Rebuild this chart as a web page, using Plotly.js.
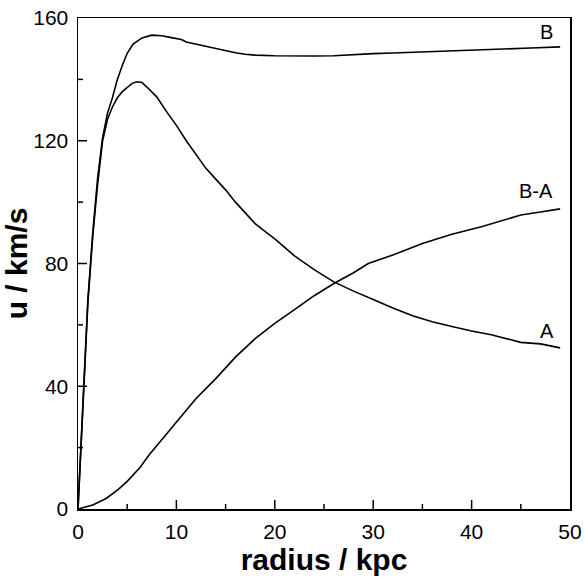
<!DOCTYPE html>
<html>
<head>
<meta charset="utf-8">
<script src="https://cdn.plot.ly/plotly-3.0.1.min.js"></script>
<style>html,body{margin:0;padding:0;background:#fff;}#chart{width:584px;height:578px;}</style>
</head>
<body>
<div id="chart"></div>
<script>
// Curve B (total)
const rB = [0, 0.3, 0.6, 1.0, 1.5, 2.0, 2.5, 3.0, 3.5, 4.0, 4.5, 5.0, 5.6, 6.5, 7.5, 8.5, 9.5, 10.5, 11, 12, 13, 14, 15, 16, 17, 18, 20, 22, 24, 26, 28, 30, 32, 35, 38, 40, 43, 46, 49];
const uB = [0, 21, 44, 68, 90, 108, 121, 129, 134, 140, 144.5, 148.5, 151.5, 153.5, 154.4, 154.2, 153.6, 153, 152.2, 151.5, 150.8, 150, 149.3, 148.7, 148.2, 147.9, 147.7, 147.6, 147.6, 147.7, 148.1, 148.4, 148.6, 148.9, 149.2, 149.5, 149.8, 150.2, 150.6];
// Curve A
const rA = [0, 0.3, 0.6, 1.0, 1.5, 2.0, 2.5, 3.0, 3.5, 4.0, 4.5, 5.0, 5.5, 6.0, 6.5, 7.0, 8.0, 9.0, 10.0, 11, 12, 13, 14, 15, 16, 17, 18, 19, 20, 22, 24, 26, 28, 30, 32, 34, 36, 38, 40, 42, 44, 45, 47, 49];
const uA = [0, 21, 44, 67, 89, 106, 120, 127, 131, 134, 136, 137.5, 138.7, 139.2, 139, 137.5, 134.3, 129.5, 125, 120, 115.5, 111, 107.5, 104, 100, 96.5, 93, 90.5, 88, 82.5, 78, 74, 71, 68.3, 65.5, 63, 61, 59.5, 58, 56.8, 55, 54.3, 53.8, 52.5];
// Curve B-A
const rBA = [0, 1.5, 2.9, 3.5, 4.1, 5.0, 6.3, 7.2, 8.5, 10, 12, 14, 16, 18, 20, 22, 24, 26, 28, 29.5, 32, 35, 38, 41, 45, 47, 49];
const uBA = [0, 1.3, 3.5, 5, 6.4, 9, 13.5, 17.5, 22.5, 28, 36, 42.5, 49.5, 55.5, 60.5, 65, 69.5, 73.5, 77, 80, 82.8, 86.5, 89.5, 92, 95.8, 96.8, 97.8];
const curveLabels = ["B", "A", "B-A"];
const labelPos = [[47.6, 155.5], [47.7, 58], [46.5, 103.5]];
// Axis ticks
const xRange = [0, 50];
const yRange = [0, 160];
const xTickVals = [0, 10, 20, 30, 40, 50];
const yTickVals = [0, 40, 80, 120, 160];
const xMajorInner = [10, 20, 30, 40];
const xMinorInner = [5, 15, 25, 35, 45];
const yMajorInner = [40, 80, 120];
const yMinorInner = [20, 60, 100, 140];

const lineStyle = {color: "#000", width: 1.6};
const traces = [
  {x: rB, y: uB, mode: "lines", line: lineStyle, name: curveLabels[0]},
  {x: rA, y: uA, mode: "lines", line: lineStyle, name: curveLabels[1]},
  {x: rBA, y: uBA, mode: "lines", line: lineStyle, name: curveLabels[2]}
];
const font = "Liberation Sans, Arial, sans-serif";
const axisCommon = {
  showline: true, mirror: true, linecolor: "#000", linewidth: 1.5,
  ticks: "", showgrid: false, zeroline: false,
  tickfont: {family: font, size: 21, color: "#000"}
};
const tickLine = {color: "#000", width: 1.5};
// inward tick marks drawn as pixel-sized shapes anchored on the axes
const xTickShape = (v, len) => ({type: "line", xref: "x", yref: "paper", ysizemode: "pixel", yanchor: 0,
  x0: v, x1: v, y0: 0, y1: len, line: tickLine, layer: "above"});
const yTickShape = (v, len) => ({type: "line", xref: "paper", yref: "y", xsizemode: "pixel", xanchor: 0,
  x0: 0, x1: len, y0: v, y1: v, line: tickLine, layer: "above"});
const shapes = [].concat(
  xMajorInner.map(v => xTickShape(v, 9)),
  xMinorInner.map(v => xTickShape(v, 5)),
  yMajorInner.map(v => yTickShape(v, 9)),
  yMinorInner.map(v => yTickShape(v, 5))
);
const layout = {
  width: 584, height: 578,
  margin: {l: 78, r: 14, t: 18, b: 69},
  paper_bgcolor: "#fff", plot_bgcolor: "#fff",
  showlegend: false,
  xaxis: Object.assign({}, axisCommon, {
    range: xRange, tickmode: "array", tickvals: xTickVals, ticklabelstandoff: 3,
    title: {text: "<b>radius / kpc</b>", font: {family: font, size: 30, color: "#000"}, standoff: 2}
  }),
  yaxis: Object.assign({}, axisCommon, {
    range: yRange, tickmode: "array", tickvals: yTickVals, ticklabelstandoff: 4,
    title: {text: "<b>u / km/s</b>", font: {family: font, size: 30, color: "#000"}, standoff: 0}
  }),
  shapes: shapes,
  annotations: curveLabels.map((t, i) => ({
    x: labelPos[i][0], y: labelPos[i][1], text: t, showarrow: false,
    font: {family: font, size: 20, color: "#000"}, xanchor: "center", yanchor: "middle"
  }))
};
Plotly.newPlot("chart", traces, layout, {displayModeBar: false, staticPlot: true});
</script>
</body>
</html>
